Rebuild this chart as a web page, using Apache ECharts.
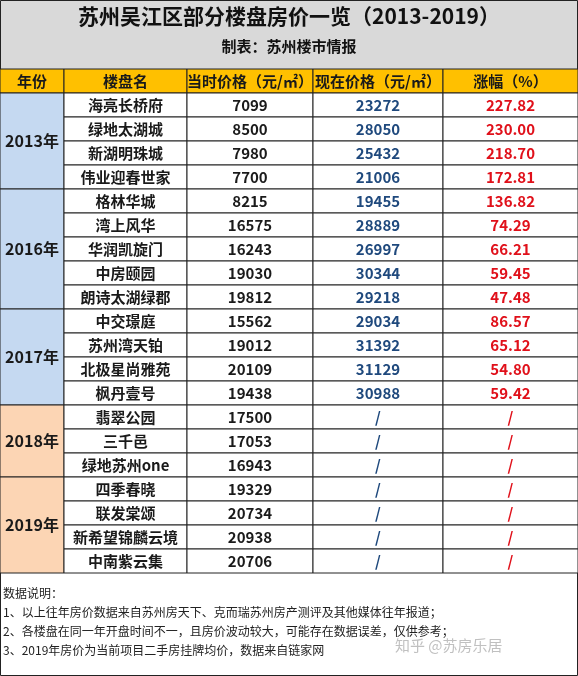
<!DOCTYPE html>
<html><head><meta charset="utf-8">
<script src="https://cdn.jsdelivr.net/npm/echarts@6/dist/echarts.min.js"></script>
<style>html,body{margin:0;padding:0;background:#fff}#c{width:578px;height:676px}</style>
</head><body><div id="c"></div>
<script>
const headers = ['年份','楼盘名','当时价格（元/㎡）','现在价格（元/㎡）','涨幅（%）'];
const years = ['2013年','2016年','2017年','2018年','2019年'];
const yearCounts = [4,5,4,3,4];
const names = ['海亮长桥府','绿地太湖城','新湖明珠城','伟业迎春世家','格林华城','湾上风华','华润凯旋门','中房颐园','朗诗太湖绿郡','中交璟庭','苏州湾天铂','北极星尚雅苑','枫丹壹号','翡翠公园','三千邑','绿地苏州one','四季春晓','联发棠颂','新希望锦麟云境','中南紫云集'];
const oldPrices = [7099,8500,7980,7700,8215,16575,16243,19030,19812,15562,19012,20109,19438,17500,17053,16943,19329,20734,20938,20706];
const newPrices = [23272,28050,25432,21006,19455,28889,26997,30344,29218,29034,31392,31129,30988,'/','/','/','/','/','/','/'];
const changes = ['227.82','230.00','218.70','172.81','136.82','74.29','66.21','59.45','47.48','86.57','65.12','54.80','59.42','/','/','/','/','/','/','/'];
const notes = ['数据说明：','1、以上往年房价数据来自苏州房天下、克而瑞苏州房产测评及其他媒体往年报道；','2、各楼盘在同一年开盘时间不一，且房价波动较大，可能存在数据误差，仅供参考；','3、2019年房价为当前项目二手房挂牌均价，数据来自链家网'];

const colEdges = [0,64,187,313,443,578];
const FONT = '"Noto Sans CJK SC"';
const cells = [];
headers.forEach((h,c)=>cells.push([0,1,c,c+1,h,'#FFC000','#1a1a1a',15]));
let r = 1;
years.forEach((y,i)=>{
  const fill = i<3 ? '#C5D9F1' : '#FCD5B4';
  cells.push([r, r+yearCounts[i], 0, 1, y, fill, '#1a1a1a', 16]);
  r += yearCounts[i];
});
names.forEach((n,i)=>{
  const row = i+1;
  cells.push([row,row+1,1,2,n,'#fff','#1a1a1a',15]);
  cells.push([row,row+1,2,3,String(oldPrices[i]),'#fff','#1a1a1a',15]);
  cells.push([row,row+1,3,4,String(newPrices[i]),'#fff','#1F497D',15]);
  cells.push([row,row+1,4,5,changes[i],'#fff','#E0101A',15]);
});

const chart = echarts.init(document.getElementById('c'));
chart.setOption({
  animation:false,
  grid:{left:0,right:0,top:69,bottom:103},
  xAxis:{type:'value',min:0,max:578,show:false},
  yAxis:{type:'value',min:0,max:21,inverse:true,show:false},
  graphic:[
    {type:'rect',shape:{x:0,y:0,width:578,height:69},style:{fill:'#D9D9D9'}},
    {type:'text',left:'center',top:6,style:{text:'苏州吴江区部分楼盘房价一览（2013-2019）',font:'bold 21px '+FONT,fill:'#111'}},
    {type:'text',left:'center',top:39,style:{text:'制表：苏州楼市情报',font:'bold 15px '+FONT,fill:'#111'}},
    {type:'rect',shape:{x:0.5,y:0.5,width:577,height:675},style:{fill:'none',stroke:'#222',lineWidth:1}},
    ...notes.map((t,i)=>({type:'text',left:3,top:587+i*19,style:{text:t,font:'12px '+FONT,fill:'#222'}})),
    {type:'text',left:395,top:638,style:{text:'知乎 @苏房乐居',font:'15px '+FONT,fill:'rgba(150,150,150,0.6)'}}
  ],
  series:[{
    type:'custom',
    data:cells,
    renderItem:(params,api)=>{
      const d = cells[params.dataIndex];
      const p1 = api.coord([colEdges[d[2]], d[0]]);
      const p2 = api.coord([colEdges[d[3]], d[1]]);
      return {type:'group',children:[
        {type:'rect',shape:{x:p1[0],y:p1[1],width:p2[0]-p1[0],height:p2[1]-p1[1]},style:{fill:d[5],stroke:'#222',lineWidth:1}},
        {type:'text',style:{text:d[4],x:(p1[0]+p2[0])/2,y:(p1[1]+p2[1])/2,align:'center',verticalAlign:'middle',font:'bold '+d[7]+'px '+FONT,fill:d[6]}}
      ]};
    }
  }]
});
</script></body></html>
